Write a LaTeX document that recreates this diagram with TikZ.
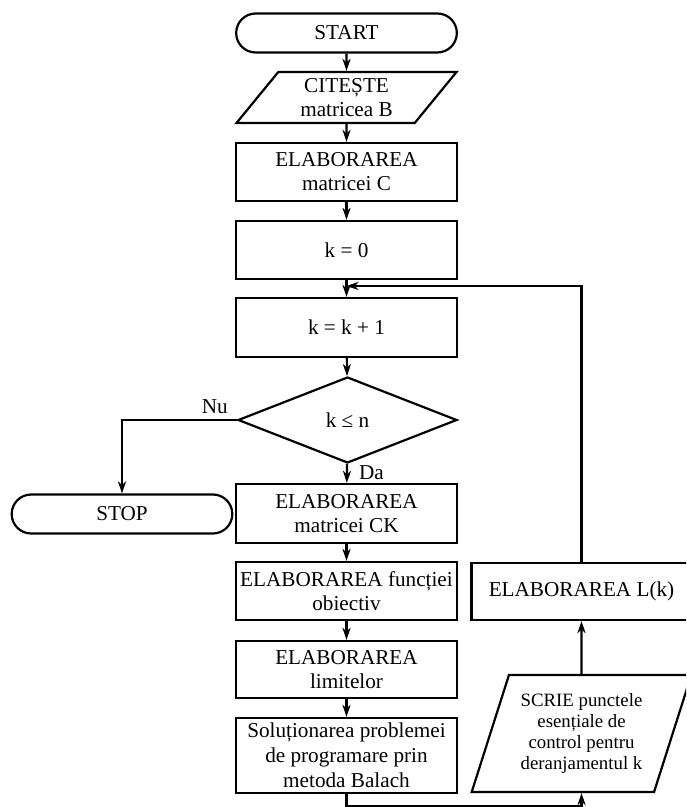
\documentclass[tikz,border=0pt]{standalone}
\usepackage{fontspec}
\setmainfont{Liberation Serif}
\usetikzlibrary{shapes.geometric,shapes.misc,arrows.meta}

\begin{document}
\begin{tikzpicture}[x=0.5pt,y=-0.5pt,line width=1.1pt,
        font=\fontsize{10.6}{12}\selectfont,
        every node/.style={align=center},
        proc/.style={draw,rectangle,minimum width=110.5pt,inner sep=1pt},
        term/.style={draw,rounded rectangle,minimum width=117pt,minimum height=19.5pt},
        io/.style={draw,trapezium,trapezium stretches=true,minimum width=110.5pt,inner sep=1pt},
        cond/.style={draw,diamond,minimum width=109.5pt,minimum height=43pt,inner sep=0pt},
        arr/.style={-{Stealth[length=6pt,width=4pt,inset=1.8pt]}}]
        \useasboundingbox (0,0) rectangle (686,807);
        \clip (0,0) rectangle (686,807);
        % main column
        \node[term] (start) at (346.5,33) {START};
        \node[io,minimum height=25.5pt,trapezium left angle=55,trapezium right angle=125] (readB) at (346.5,97.5) {CITEȘTE\\matricea B};
        \node[proc,minimum height=29pt] (matC) at (346.5,172) {ELABORAREA\\matricei C};
        \node[proc,minimum height=29pt] (kzero) at (346.5,250) {k = 0};
        \node[proc,minimum height=29.5pt] (kinc) at (346.5,327.5) {k = k + 1};
        \node[cond] (test) at (347.5,420) {k ≤ n};
        \node[term] (stop) at (122,514) {STOP};
        \node[proc,minimum height=29.5pt] (matCK) at (346.5,513.5) {ELABORAREA\\matricei CK};
        \node[proc,minimum height=29pt] (fobj) at (346.5,591) {ELABORAREA funcției\\obiectiv};
        \node[proc,minimum height=28.5pt] (lim) at (346.5,669.5) {ELABORAREA\\limitelor};
        \node[proc,minimum height=37.5pt,font=\fontsize{10.6}{12.5}\selectfont] (balach) at (346.5,755.5) {Soluționarea problemei\\de programare prin\\metoda Balach};
        % right column
        \node[proc,minimum width=110pt,minimum height=28.5pt] (lk) at (581.5,591.5) {ELABORAREA L(k)};
        \node[io,minimum width=110pt,minimum height=58.5pt,trapezium left angle=69,trapezium right angle=111,font=\fontsize{9.4}{10.5}\selectfont] (scrie) at (581.5,733.5) {SCRIE punctele\\esențiale de\\control pentru\\deranjamentul k};
        \coordinate (join) at (346.5,286);
        % labels
        \node[anchor=base east,inner sep=0pt] (nu) at ([xshift=-4pt,yshift=3.5pt]test.west) {Nu};
        \node[anchor=base west,inner sep=0pt] (da) at ([xshift=5.2pt,yshift=-7.5pt]test.south) {Da};
        % connectors
        \draw[arr] (start) -- (readB);
        \draw[arr] (readB) -- (matC);
        \draw[arr] (matC) -- (kzero);
        \draw[arr] (kzero) -- (kinc);
        \draw[arr] (kinc) -- (test);
        \draw[arr] (test.west) -| (stop.north);
        \draw[arr] (test) -- (matCK);
        \draw[arr] (matCK) -- (fobj);
        \draw[arr] (fobj) -- (lim);
        \draw[arr] (lim) -- (balach);
        \draw[arr] (balach.south) -- ++(0,12) -| (scrie.south);
        \draw[arr] (scrie) -- (lk);
        \draw[arr] (lk.north) |- (join);
    \end{tikzpicture}
\end{document}
